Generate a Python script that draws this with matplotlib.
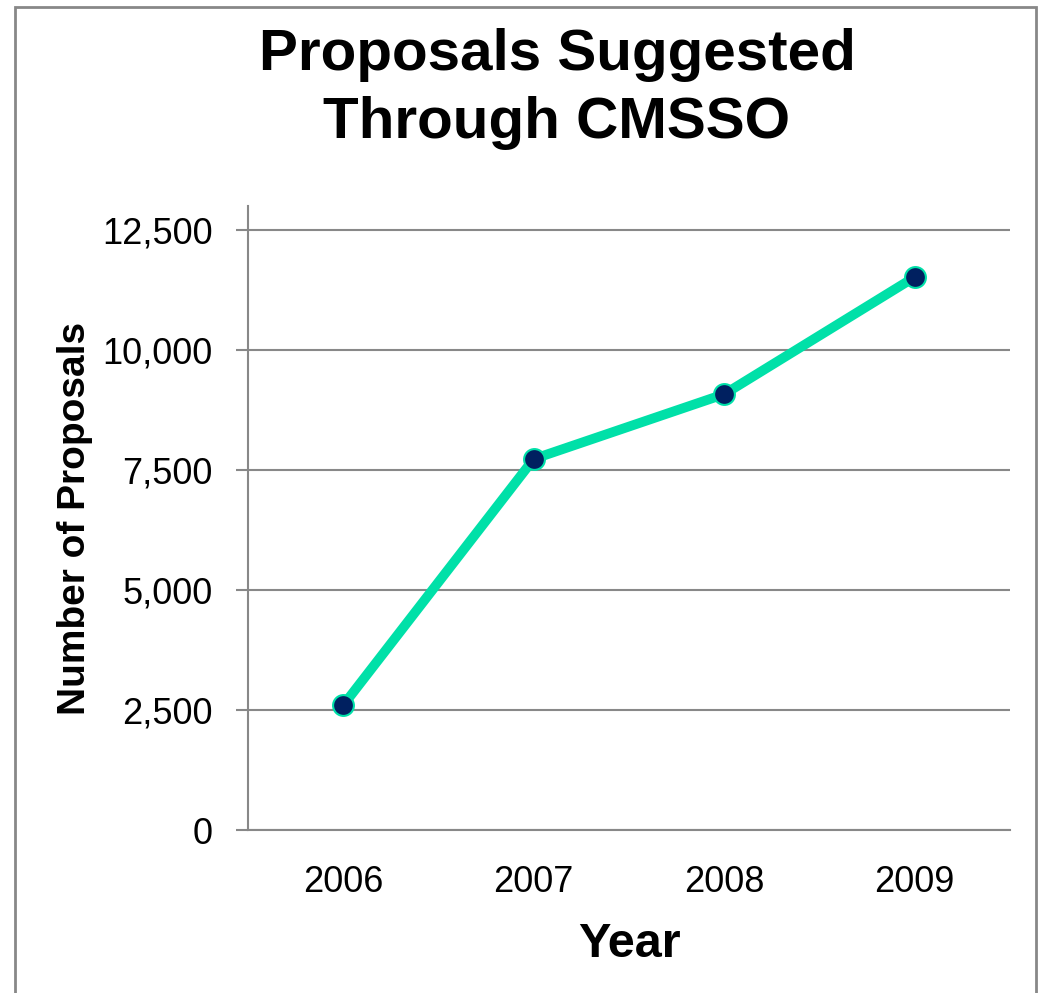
import matplotlib.pyplot as plt
from matplotlib.patches import Rectangle
from matplotlib.ticker import FuncFormatter

years = ["2006", "2007", "2008", "2009"]
proposals = [2600, 7730, 9080, 11520]
y_ticks = [0, 2500, 5000, 7500, 10000, 12500]

plt.rcParams["font.family"] = ["Liberation Sans", "DejaVu Sans"]

fig = plt.figure(figsize=(10.4, 9.93), dpi=100)
ax = fig.add_axes([248 / 1040, 163 / 993, 762 / 1040, 624 / 993])

# outer chart border (bottom edge runs off the image, as in the original)
fig.patches.append(Rectangle((15 / 1040, -0.01), 1021 / 1040, 1.01 - 7 / 993,
                             transform=fig.transFigure, fill=False,
                             edgecolor="#888888", linewidth=2, clip_on=False))

x = list(range(len(years)))
ax.plot(x, proposals, color="#00E0A8", linewidth=7, zorder=3,
        marker="o", markersize=15, markerfacecolor="#002060",
        markeredgecolor="#00E0A8", markeredgewidth=1.5, solid_capstyle="butt")

ax.set_xlim(-0.5, 3.5)
ax.set_ylim(0, 13000)
ax.set_yticks(y_ticks)
ax.yaxis.set_major_formatter(FuncFormatter(lambda v, p: f"{int(v):,}"))
ax.set_xticks(x)
ax.set_xticklabels(years)
ax.tick_params(axis="y", length=8.6, width=1.5, color="#888888", labelsize=26, pad=17)
ax.tick_params(axis="x", length=0, labelsize=26, pad=25)
ax.grid(axis="y", color="#888888", linewidth=1.5)
ax.set_axisbelow(True)

for s in ["top", "right"]:
    ax.spines[s].set_visible(False)
for s in ["left", "bottom"]:
    ax.spines[s].set_color("#888888")
    ax.spines[s].set_linewidth(1.5)

ax.set_xlabel("Year", fontsize=35, fontweight="bold", labelpad=16)
ax.set_ylabel("Number of Proposals", fontsize=28, fontweight="bold", labelpad=6)

fig.text(557 / 1040, 1 - 89 / 993, "Proposals Suggested\nThrough CMSSO",
         ha="center", va="center", fontsize=42, fontweight="bold", linespacing=1.33)

fig.savefig("out.png", dpi=100)
